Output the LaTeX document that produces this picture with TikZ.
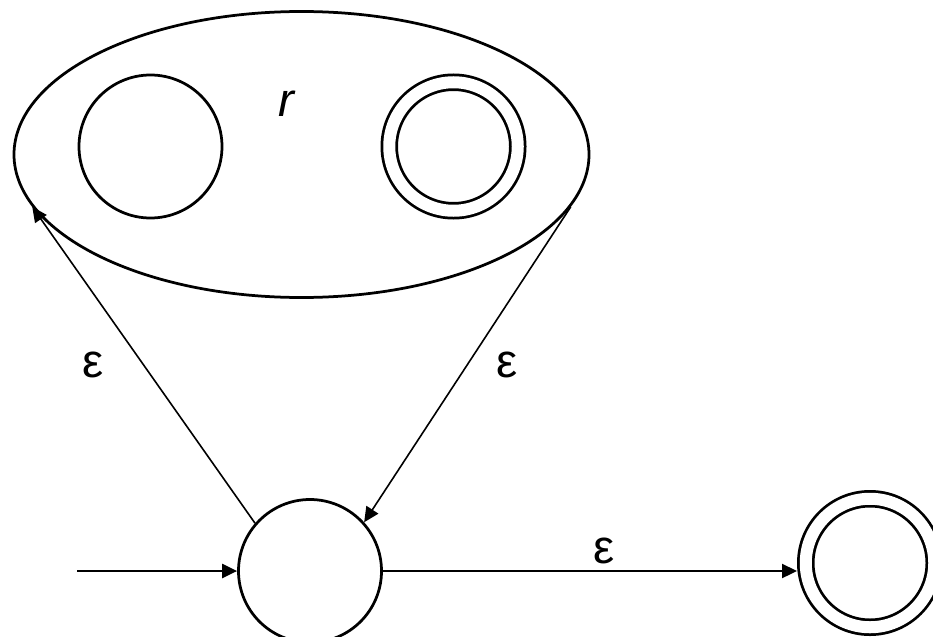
\documentclass[tikz,border=0pt]{standalone}
\usepackage{fontspec}
\setmainfont{Liberation Sans}
\usetikzlibrary{arrows.meta,shapes.geometric,positioning}

\begin{document}
\begin{tikzpicture}[
        estado/.style={
            circle,
            draw=black,
            line width=0.055cm,
            minimum size=2.86cm,
            inner sep=0pt
        },
        final/.style={
            estado,
            double,
            double distance=0.24cm,
            minimum size=2.57cm,
            outer sep=0.175cm
        },
        trans/.style={
            -{Triangle[length=0.3cm,width=0.28cm]},
            line width=0.045cm
        },
        eps/.style={
            font=\fontsize{27}{30}\selectfont,
            inner sep=0pt
        }
    ]

    \useasboundingbox (0,0) rectangle (18.66,12.72);

    % Expresión r
    \node[ellipse, draw=black, line width=0.055cm, minimum width=11.5cm,
          minimum height=5.72cm, inner sep=0pt] (r) at (6.03,9.63) {};
    \node[estado] (s1) at (3.01,9.79) {};
    \node[final] (f1) at (9.07,9.79) {};
    \node[eps] (lr) at (5.74,10.64) {\textit{r}};

    % Estados
    \node[estado] (q0) at (6.2,1.3) {};
    \node[final] (qf) at (17.4,1.46) {};
    \coordinate (ini) at (1.54,1.3);

    % Transiciones
    \draw[trans] (ini) -- (q0);
    \draw[trans] (q0.east) -- node[eps, pos=0.534, above=0.12cm] (e3) {ε} (q0.east -| qf.west);
    \draw[trans, line width=0.032cm] (q0.139) -- node[eps, midway, left=0.78cm] (e1) {ε} (r.191);
    \draw[trans, line width=0.032cm] (r.349) -- node[eps, midway, right=0.56cm] (e2) {ε} (q0.42);

\end{tikzpicture}
\end{document}
